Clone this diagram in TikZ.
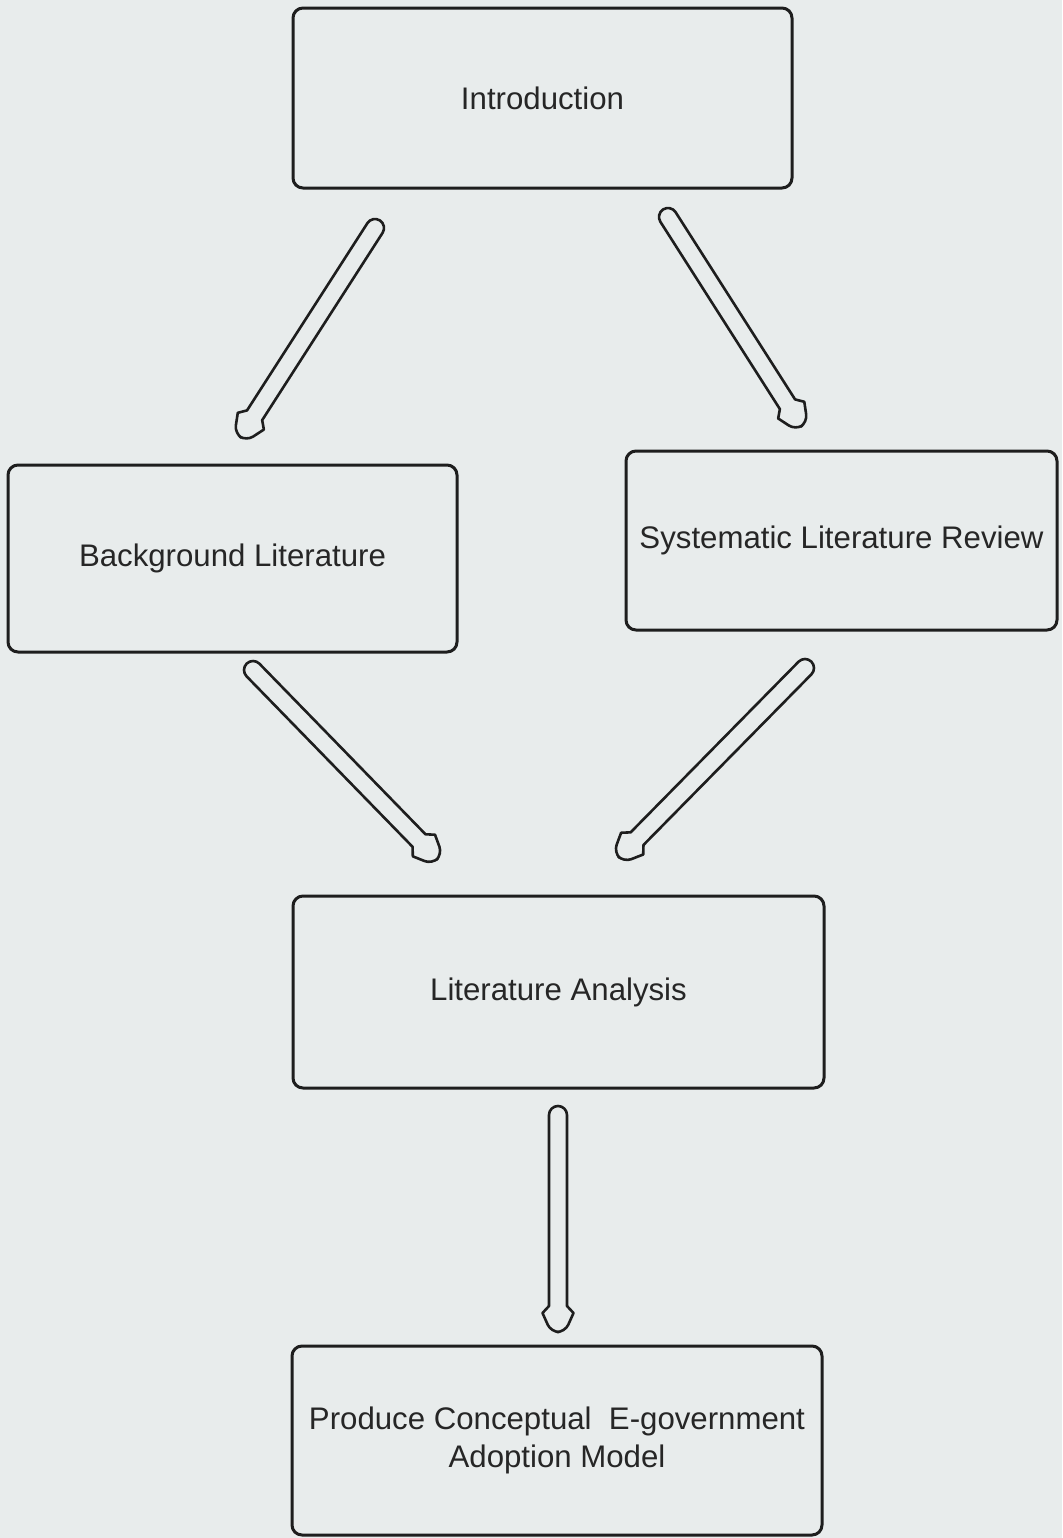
\documentclass[tikz,border=0pt]{standalone}
\usepackage{fontspec}
\setmainfont{Liberation Sans}
\usetikzlibrary{calc}

\definecolor{paper}{HTML}{E8ECEC}
\definecolor{ink}{HTML}{1E1E1E}
\definecolor{txt}{HTML}{262626}

\tikzset{
  stage/.style={draw=ink, line width=1.5pt, rounded corners=5pt, fill=paper,
    rectangle, inner sep=0pt, align=center, text=txt,
    font=\fontsize{15.6pt}{19pt}\selectfont},
  arrowstroke/.style={draw=ink, line width=1.3pt, fill=paper, line join=round}
}

% hollow block arrow with a rounded tail, from #1 (tail) to #2 (tip)
\newcommand\hollowarrow[2]{%
  \path let \p1=($(#2)-(#1)$), \n1={atan2(\y1,\x1)}, \n2={veclen(\x1,\y1)} in
    \pgfextra{\xdef\harang{\n1}\xdef\harlen{\n2}};
  \begin{scope}[shift={(#1)}, rotate=\harang, x=0.5pt, y=0.5pt]
    \pgfmathsetmacro\harL{\harlen*2}
    \draw[arrowstroke] (0,9) -- (\harL-27,9) -- (\harL-20,15.5)
      [rounded corners=4pt] -- (\harL-1,7) -- (\harL-1,-7) [sharp corners]
      -- (\harL-20,-15.5) -- (\harL-27,-9) -- (0,-9)
      arc[start angle=-90, end angle=-270, radius=9] -- cycle;
  \end{scope}%
}

\begin{document}
\begin{tikzpicture}[x=0.5pt, y=-0.5pt]
  \fill[paper] (0,0) rectangle (1062,1538);
  \useasboundingbox (0,0) rectangle (1062,1538);

  % process stages
  \node[stage, minimum width=249.5pt, minimum height=90pt]  (intro) at (542.5,98)   {Introduction};
  \node[stage, minimum width=224.5pt, minimum height=93.5pt] (bg)   at (232.5,558.5) {Background Literature};
  \node[stage, minimum width=215.5pt, minimum height=89.5pt] (slr)  at (841.5,540.5) {Systematic Literature Review};
  \node[stage, minimum width=265.5pt, minimum height=96pt]  (la)    at (558.5,992)   {Literature Analysis};
  \node[stage, minimum width=265pt,   minimum height=94.5pt] (prod) at (557,1440.5)  {Produce Conceptual~ E-government\\Adoption Model};

  % arrow end points
  \coordinate (t1) at (375,228);  \coordinate (h1) at (240,438);
  \coordinate (t2) at (668,217);  \coordinate (h2) at (802,427);
  \coordinate (t3) at (253,670);  \coordinate (h3) at (438,860);
  \coordinate (t4) at (805,668);  \coordinate (h4) at (618,858);
  \coordinate (t5) at (558,1115); \coordinate (h5) at (558,1333);

  \hollowarrow{t1}{h1}
  \hollowarrow{t2}{h2}
  \hollowarrow{t3}{h3}
  \hollowarrow{t4}{h4}
  \hollowarrow{t5}{h5}
\end{tikzpicture}
\end{document}
